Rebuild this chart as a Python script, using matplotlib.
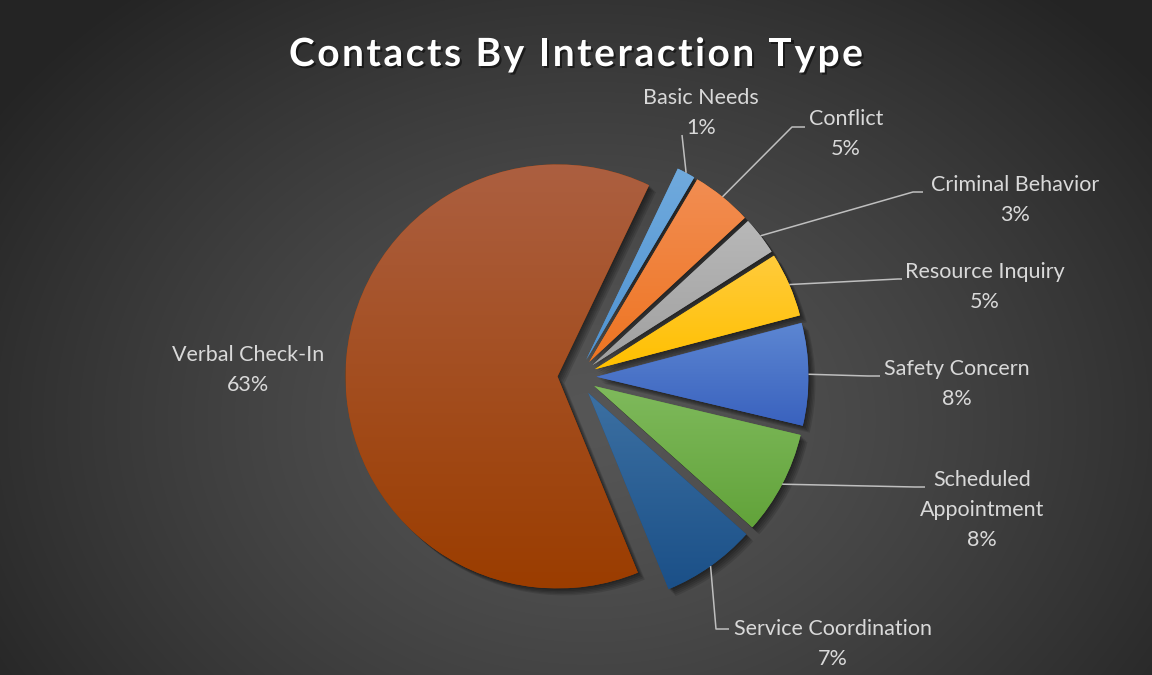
import matplotlib.pyplot as plt
import matplotlib.patheffects as pe
import numpy as np
from matplotlib.colors import to_rgb

# data
categories = ['Basic Needs', 'Conflict', 'Criminal Behavior', 'Resource Inquiry',
              'Safety Concern', 'Scheduled\nAppointment', 'Service Coordination',
              'Verbal Check-In']
shares = [1.4, 4.6, 2.9, 4.9, 7.8, 7.9, 7.2, 63.3]
top_colors = ['#70AADD', '#F28D52', '#B8B8B8', '#FFCB3C',
              '#5C86D2', '#7FBA5C', '#3C70A2', '#AC5F40']
bottom_colors = ['#4F93D2', '#EE7522', '#A0A0A0', '#FFC000',
                 '#3A62BE', '#62A33A', '#1B5088', '#9B3D00']

# label layout (pixel positions, y from top)
label_pos = [(701, 113), (846, 134), (1015, 200), (985, 287),
             (957, 384), (982, 510), (833, 644), (248, 370)]
leader_elbow = [(682, 135), (792, 127), (913, 192), (898, 279),
                (868, 376), (915, 487), (716, 629), None]
leader_end = [(682, 135), (805, 127), (923, 192), (902, 279),
              (880, 376), (925, 487), (729, 629), None]

W, H = 1152, 675
fig = plt.figure(figsize=(W / 100, H / 100), dpi=100)

# radial background
bg = fig.add_axes([0, 0, 1, 1], zorder=0)
yy, xx = np.mgrid[0:H, 0:W]
d = np.sqrt(((xx - 590) / 720.0) ** 2 + ((yy - 420) / 560.0) ** 2)
v = (86 - 50 * np.clip(d, 0, 1) ** 1.3) / 255.0
bg.imshow(np.dstack([v, v, v]), extent=(0, W, 0, H), origin='upper', aspect='auto')
bg.axis('off')

ax = fig.add_axes([0, 0, 1, 1], zorder=1)
ax.patch.set_alpha(0)


def py(y):
    return H - y


shadow = [pe.SimplePatchShadow(offset=(o, -o), shadow_rgbFace='black', alpha=0.12)
          for o in (1, 2, 3, 4, 5)]
wedges, _ = ax.pie(shares, radius=212, center=(577, py(377)), startangle=64.4,
                   counterclock=False, explode=[19.5] * len(shares),
                   colors=bottom_colors, frame=False,
                   wedgeprops=dict(linewidth=0, zorder=1))

for w, c1, c2 in zip(wedges, top_colors, bottom_colors):
    w.set_path_effects(shadow + [pe.Normal()])
    ext = w.get_path().get_extents()
    g = np.linspace(0, 1, 64)[:, None, None]
    img = (1 - g) * np.array(to_rgb(c1)) + g * np.array(to_rgb(c2))
    im = ax.imshow(img, extent=(ext.x0, ext.x1, ext.y0, ext.y1), origin='upper',
                   aspect='auto', zorder=3, interpolation='bilinear')
    im.set_clip_path(w)

total = sum(shares)
for w, cat, s, pos, elb, end in zip(wedges, categories, shares, label_pos,
                                    leader_elbow, leader_end):
    ax.text(pos[0], py(pos[1]), f'{cat}\n{round(s / total * 100)}%', ha='center',
            va='center', fontsize=15.5, color='#D9D9D9', family='Lato',
            linespacing=1.62, zorder=5)
    if elb is None:
        continue
    th = np.deg2rad((w.theta1 + w.theta2) / 2)
    sx = w.center[0] + w.r * np.cos(th)
    sy = w.center[1] + w.r * np.sin(th)
    ax.plot([sx, elb[0], end[0]], [sy, py(elb[1]), py(end[1])], color='#BFBFBF',
            lw=1.1, zorder=4, solid_capstyle='butt')

ax.set_xlim(0, W)
ax.set_ylim(0, H)
ax.axis('off')

# letter-spaced title
title = 'Contacts By Interaction Type'
tkw = dict(fontsize=28, fontweight='bold', family='Lato', color='white')
r = fig.canvas.get_renderer()


def tw(s):
    t = ax.text(0, 0, s + '|', **tkw)
    bar = ax.text(0, 0, '|', **tkw)
    wdt = t.get_window_extent(r).width - bar.get_window_extent(r).width
    t.remove()
    bar.remove()
    return wdt


prefix = [tw(title[:i]) for i in range(len(title) + 1)]
gap = (574 - prefix[-1]) / (len(title) - 1)
x0 = W / 2 - 574 / 2
for i, ch in enumerate(title):
    ax.text(x0 + prefix[i] + i * gap, py(66), ch, ha='left', va='baseline', zorder=6,
            path_effects=[pe.withSimplePatchShadow(offset=(1.5, -1.5),
                                                   shadow_rgbFace='black', alpha=0.5)],
            **tkw)

fig.savefig('out.png', dpi=100)
